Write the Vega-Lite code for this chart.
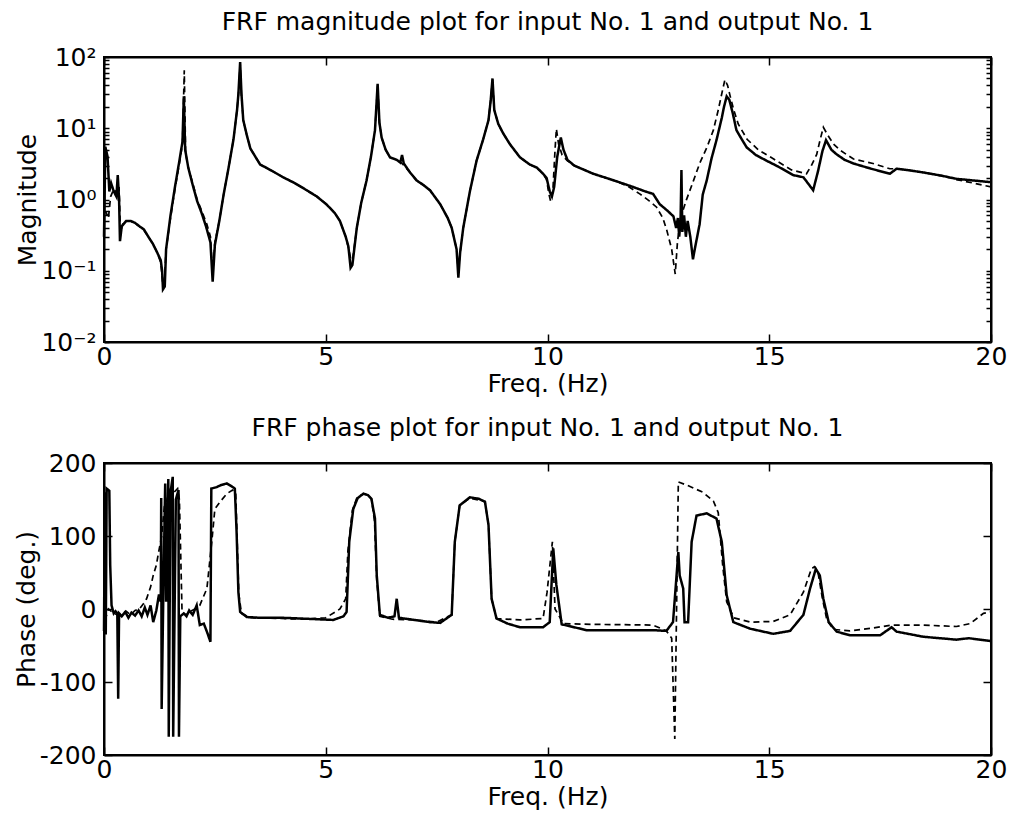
{
  "$schema": "https://vega.github.io/schema/vega-lite/v6.json",
  "padding": {"left": 13, "top": 9, "right": 5, "bottom": 5},
  "spacing": 18,
  "config": {
    "font": "DejaVu Sans",
    "view": {"stroke": "black", "strokeWidth": 2},
    "title": {"fontSize": 25, "fontWeight": "normal", "color": "black", "font": "DejaVu Sans"},
    "axis": {
      "domainColor": "black", "domainWidth": 2, "tickColor": "black", "tickWidth": 1.5,
      "labelColor": "black", "labelFontSize": 25, "labelFont": "DejaVu Sans",
      "titleColor": "black", "titleFontSize": 25, "titleFontWeight": "normal", "titleFont": "DejaVu Sans",
      "grid": false, "labelPadding": 10, "tickSize": -8
    }
  },
  "datasets": {
    "mag": [
      {"f":0.0,"v":0.3,"s":"a"},{"f":0.03,"v":5.5,"s":"a"},{"f":0.08,"v":4,"s":"a"},{"f":0.12,"v":1.3,"s":"a"},{"f":0.16,"v":1.7,"s":"a"},{"f":0.22,"v":1.3,"s":"a"},{"f":0.28,"v":1.1,"s":"a"},{"f":0.31,"v":2.2,"s":"a"},{"f":0.34,"v":1.0,"s":"a"},{"f":0.36,"v":0.26,"s":"a"},{"f":0.4,"v":0.42,"s":"a"},{"f":0.5,"v":0.5,"s":"a"},{"f":0.6,"v":0.5,"s":"a"},{"f":0.7,"v":0.47,"s":"a"},{"f":0.8,"v":0.42,"s":"a"},{"f":0.9,"v":0.38,"s":"a"},{"f":1.0,"v":0.3,"s":"a"},{"f":1.1,"v":0.24,"s":"a"},{"f":1.2,"v":0.18,"s":"a"},{"f":1.28,"v":0.14,"s":"a"},{"f":1.31,"v":0.1,"s":"a"},{"f":1.33,"v":0.055,"s":"a"},{"f":1.37,"v":0.06,"s":"a"},{"f":1.4,"v":0.2,"s":"a"},{"f":1.5,"v":0.6,"s":"a"},{"f":1.6,"v":1.5,"s":"a"},{"f":1.7,"v":3.5,"s":"a"},{"f":1.77,"v":6.5,"s":"a"},{"f":1.8,"v":28,"s":"a"},{"f":1.83,"v":5,"s":"a"},{"f":1.9,"v":2.8,"s":"a"},{"f":2.0,"v":1.6,"s":"a"},{"f":2.1,"v":0.95,"s":"a"},{"f":2.2,"v":0.65,"s":"a"},{"f":2.3,"v":0.42,"s":"a"},{"f":2.4,"v":0.25,"s":"a"},{"f":2.45,"v":0.07,"s":"a"},{"f":2.5,"v":0.23,"s":"a"},{"f":2.6,"v":0.5,"s":"a"},{"f":2.7,"v":1.2,"s":"a"},{"f":2.8,"v":2.6,"s":"a"},{"f":2.92,"v":7,"s":"a"},{"f":3.0,"v":18,"s":"a"},{"f":3.03,"v":30,"s":"a"},{"f":3.07,"v":85,"s":"a"},{"f":3.1,"v":30,"s":"a"},{"f":3.14,"v":13,"s":"a"},{"f":3.22,"v":8,"s":"a"},{"f":3.3,"v":5.2,"s":"a"},{"f":3.52,"v":3.1,"s":"a"},{"f":3.8,"v":2.5,"s":"a"},{"f":4.04,"v":2.05,"s":"a"},{"f":4.3,"v":1.7,"s":"a"},{"f":4.57,"v":1.35,"s":"a"},{"f":4.8,"v":1.1,"s":"a"},{"f":5.02,"v":0.85,"s":"a"},{"f":5.2,"v":0.65,"s":"a"},{"f":5.32,"v":0.5,"s":"a"},{"f":5.45,"v":0.3,"s":"a"},{"f":5.51,"v":0.22,"s":"a"},{"f":5.56,"v":0.11,"s":"a"},{"f":5.6,"v":0.12,"s":"a"},{"f":5.7,"v":0.4,"s":"a"},{"f":5.8,"v":0.9,"s":"a"},{"f":5.92,"v":1.85,"s":"a"},{"f":6.02,"v":4,"s":"a"},{"f":6.11,"v":9.4,"s":"a"},{"f":6.17,"v":42,"s":"a"},{"f":6.21,"v":12,"s":"a"},{"f":6.26,"v":7.4,"s":"a"},{"f":6.35,"v":5,"s":"a"},{"f":6.45,"v":3.9,"s":"a"},{"f":6.6,"v":3.6,"s":"a"},{"f":6.68,"v":3.3,"s":"a"},{"f":6.72,"v":4.2,"s":"a"},{"f":6.76,"v":3.2,"s":"a"},{"f":6.9,"v":2.4,"s":"a"},{"f":7.05,"v":1.85,"s":"a"},{"f":7.2,"v":1.6,"s":"a"},{"f":7.35,"v":1.35,"s":"a"},{"f":7.58,"v":0.86,"s":"a"},{"f":7.75,"v":0.55,"s":"a"},{"f":7.84,"v":0.4,"s":"a"},{"f":7.95,"v":0.2,"s":"a"},{"f":7.99,"v":0.08,"s":"a"},{"f":8.03,"v":0.18,"s":"a"},{"f":8.1,"v":0.4,"s":"a"},{"f":8.25,"v":1.3,"s":"a"},{"f":8.4,"v":3.5,"s":"a"},{"f":8.55,"v":7,"s":"a"},{"f":8.67,"v":13,"s":"a"},{"f":8.72,"v":25,"s":"a"},{"f":8.76,"v":50,"s":"a"},{"f":8.8,"v":18,"s":"a"},{"f":8.89,"v":11.5,"s":"a"},{"f":9.0,"v":8.5,"s":"a"},{"f":9.15,"v":6,"s":"a"},{"f":9.38,"v":3.9,"s":"a"},{"f":9.6,"v":3.1,"s":"a"},{"f":9.76,"v":2.8,"s":"a"},{"f":9.9,"v":2.3,"s":"a"},{"f":9.98,"v":2.0,"s":"a"},{"f":10.05,"v":1.3,"s":"a"},{"f":10.1,"v":1.1,"s":"a"},{"f":10.15,"v":1.5,"s":"a"},{"f":10.22,"v":4,"s":"a"},{"f":10.3,"v":7.4,"s":"a"},{"f":10.36,"v":5,"s":"a"},{"f":10.45,"v":3.6,"s":"a"},{"f":10.6,"v":3.0,"s":"a"},{"f":11.03,"v":2.3,"s":"a"},{"f":11.5,"v":1.85,"s":"a"},{"f":11.93,"v":1.5,"s":"a"},{"f":12.2,"v":1.3,"s":"a"},{"f":12.38,"v":1.2,"s":"a"},{"f":12.53,"v":0.86,"s":"a"},{"f":12.7,"v":0.7,"s":"a"},{"f":12.84,"v":0.58,"s":"a"},{"f":12.9,"v":0.4,"s":"a"},{"f":12.94,"v":0.55,"s":"a"},{"f":12.97,"v":0.3,"s":"a"},{"f":13.0,"v":0.5,"s":"a"},{"f":13.02,"v":2.6,"s":"a"},{"f":13.04,"v":0.35,"s":"a"},{"f":13.08,"v":0.6,"s":"a"},{"f":13.12,"v":0.3,"s":"a"},{"f":13.16,"v":0.5,"s":"a"},{"f":13.22,"v":0.3,"s":"a"},{"f":13.28,"v":0.145,"s":"a"},{"f":13.32,"v":0.2,"s":"a"},{"f":13.43,"v":0.45,"s":"a"},{"f":13.5,"v":1.17,"s":"a"},{"f":13.59,"v":1.85,"s":"a"},{"f":13.7,"v":3.8,"s":"a"},{"f":13.81,"v":6.8,"s":"a"},{"f":13.93,"v":14,"s":"a"},{"f":13.98,"v":20,"s":"a"},{"f":14.04,"v":28,"s":"a"},{"f":14.1,"v":25,"s":"a"},{"f":14.18,"v":16,"s":"a"},{"f":14.26,"v":9.4,"s":"a"},{"f":14.38,"v":7,"s":"a"},{"f":14.49,"v":5.4,"s":"a"},{"f":14.7,"v":4.2,"s":"a"},{"f":14.94,"v":3.5,"s":"a"},{"f":15.2,"v":2.9,"s":"a"},{"f":15.54,"v":2.2,"s":"a"},{"f":15.77,"v":2.05,"s":"a"},{"f":15.99,"v":1.35,"s":"a"},{"f":16.1,"v":2.5,"s":"a"},{"f":16.2,"v":4.8,"s":"a"},{"f":16.28,"v":6.8,"s":"a"},{"f":16.4,"v":5,"s":"a"},{"f":16.52,"v":4.3,"s":"a"},{"f":16.7,"v":3.6,"s":"a"},{"f":16.9,"v":3.2,"s":"a"},{"f":17.3,"v":2.7,"s":"a"},{"f":17.72,"v":2.3,"s":"a"},{"f":17.87,"v":2.7,"s":"a"},{"f":18.1,"v":2.6,"s":"a"},{"f":18.47,"v":2.4,"s":"a"},{"f":18.9,"v":2.15,"s":"a"},{"f":19.22,"v":1.95,"s":"a"},{"f":19.6,"v":1.85,"s":"a"},{"f":20.0,"v":1.75,"s":"a"},
      {"f":0.0,"v":0.7,"s":"b"},{"f":0.05,"v":0.65,"s":"b"},{"f":0.1,"v":0.55,"s":"b"},{"f":0.15,"v":1.1,"s":"b"},{"f":0.22,"v":1.4,"s":"b"},{"f":0.3,"v":1.2,"s":"b"},{"f":0.34,"v":1.5,"s":"b"},{"f":0.37,"v":0.35,"s":"b"},{"f":0.42,"v":0.45,"s":"b"},{"f":0.5,"v":0.5,"s":"b"},{"f":0.6,"v":0.5,"s":"b"},{"f":0.7,"v":0.46,"s":"b"},{"f":0.8,"v":0.42,"s":"b"},{"f":0.9,"v":0.37,"s":"b"},{"f":1.0,"v":0.3,"s":"b"},{"f":1.1,"v":0.24,"s":"b"},{"f":1.2,"v":0.18,"s":"b"},{"f":1.28,"v":0.13,"s":"b"},{"f":1.32,"v":0.07,"s":"b"},{"f":1.36,"v":0.065,"s":"b"},{"f":1.4,"v":0.2,"s":"b"},{"f":1.5,"v":0.55,"s":"b"},{"f":1.6,"v":1.4,"s":"b"},{"f":1.7,"v":3.2,"s":"b"},{"f":1.77,"v":6,"s":"b"},{"f":1.81,"v":65,"s":"b"},{"f":1.84,"v":4.5,"s":"b"},{"f":1.9,"v":2.8,"s":"b"},{"f":2.0,"v":1.7,"s":"b"},{"f":2.1,"v":1.0,"s":"b"},{"f":2.2,"v":0.7,"s":"b"},{"f":2.32,"v":0.45,"s":"b"},{"f":2.4,"v":0.3,"s":"b"},{"f":2.45,"v":0.09,"s":"b"},{"f":2.5,"v":0.25,"s":"b"},{"f":2.6,"v":0.5,"s":"b"},{"f":2.7,"v":1.2,"s":"b"},{"f":2.8,"v":2.6,"s":"b"},{"f":2.92,"v":7,"s":"b"},{"f":3.0,"v":18,"s":"b"},{"f":3.04,"v":35,"s":"b"},{"f":3.07,"v":80,"s":"b"},{"f":3.1,"v":28,"s":"b"},{"f":3.14,"v":13,"s":"b"},{"f":3.22,"v":8,"s":"b"},{"f":3.3,"v":5.2,"s":"b"},{"f":3.52,"v":3.1,"s":"b"},{"f":3.8,"v":2.5,"s":"b"},{"f":4.04,"v":2.05,"s":"b"},{"f":4.3,"v":1.7,"s":"b"},{"f":4.57,"v":1.35,"s":"b"},{"f":4.8,"v":1.1,"s":"b"},{"f":5.02,"v":0.85,"s":"b"},{"f":5.2,"v":0.65,"s":"b"},{"f":5.32,"v":0.5,"s":"b"},{"f":5.45,"v":0.3,"s":"b"},{"f":5.52,"v":0.2,"s":"b"},{"f":5.57,"v":0.14,"s":"b"},{"f":5.61,"v":0.15,"s":"b"},{"f":5.7,"v":0.4,"s":"b"},{"f":5.8,"v":0.9,"s":"b"},{"f":5.92,"v":1.85,"s":"b"},{"f":6.02,"v":4,"s":"b"},{"f":6.11,"v":9.4,"s":"b"},{"f":6.17,"v":40,"s":"b"},{"f":6.21,"v":12,"s":"b"},{"f":6.26,"v":7.4,"s":"b"},{"f":6.35,"v":5,"s":"b"},{"f":6.45,"v":3.9,"s":"b"},{"f":6.6,"v":3.6,"s":"b"},{"f":6.7,"v":3.3,"s":"b"},{"f":6.9,"v":2.4,"s":"b"},{"f":7.05,"v":1.85,"s":"b"},{"f":7.2,"v":1.6,"s":"b"},{"f":7.35,"v":1.35,"s":"b"},{"f":7.58,"v":0.86,"s":"b"},{"f":7.75,"v":0.55,"s":"b"},{"f":7.84,"v":0.4,"s":"b"},{"f":7.95,"v":0.2,"s":"b"},{"f":7.99,"v":0.1,"s":"b"},{"f":8.03,"v":0.18,"s":"b"},{"f":8.1,"v":0.4,"s":"b"},{"f":8.25,"v":1.3,"s":"b"},{"f":8.4,"v":3.5,"s":"b"},{"f":8.55,"v":7,"s":"b"},{"f":8.67,"v":13,"s":"b"},{"f":8.72,"v":25,"s":"b"},{"f":8.76,"v":48,"s":"b"},{"f":8.8,"v":18,"s":"b"},{"f":8.89,"v":11.5,"s":"b"},{"f":9.0,"v":8.5,"s":"b"},{"f":9.15,"v":6,"s":"b"},{"f":9.38,"v":3.9,"s":"b"},{"f":9.6,"v":3.1,"s":"b"},{"f":9.76,"v":2.8,"s":"b"},{"f":9.9,"v":2.3,"s":"b"},{"f":9.98,"v":1.9,"s":"b"},{"f":10.03,"v":1.2,"s":"b"},{"f":10.07,"v":0.95,"s":"b"},{"f":10.12,"v":1.3,"s":"b"},{"f":10.17,"v":5,"s":"b"},{"f":10.2,"v":9.8,"s":"b"},{"f":10.25,"v":6,"s":"b"},{"f":10.33,"v":4.2,"s":"b"},{"f":10.45,"v":3.5,"s":"b"},{"f":10.6,"v":3.0,"s":"b"},{"f":11.03,"v":2.3,"s":"b"},{"f":11.5,"v":1.85,"s":"b"},{"f":11.8,"v":1.55,"s":"b"},{"f":12.08,"v":1.2,"s":"b"},{"f":12.3,"v":0.95,"s":"b"},{"f":12.46,"v":0.78,"s":"b"},{"f":12.6,"v":0.55,"s":"b"},{"f":12.69,"v":0.37,"s":"b"},{"f":12.8,"v":0.2,"s":"b"},{"f":12.88,"v":0.09,"s":"b"},{"f":12.93,"v":0.25,"s":"b"},{"f":13.0,"v":0.55,"s":"b"},{"f":13.13,"v":0.98,"s":"b"},{"f":13.3,"v":1.9,"s":"b"},{"f":13.43,"v":3.2,"s":"b"},{"f":13.6,"v":5.5,"s":"b"},{"f":13.74,"v":9.4,"s":"b"},{"f":13.85,"v":18,"s":"b"},{"f":13.95,"v":35,"s":"b"},{"f":14.0,"v":48,"s":"b"},{"f":14.06,"v":40,"s":"b"},{"f":14.12,"v":28,"s":"b"},{"f":14.2,"v":18,"s":"b"},{"f":14.3,"v":11.5,"s":"b"},{"f":14.5,"v":7,"s":"b"},{"f":14.75,"v":5,"s":"b"},{"f":15.1,"v":3.7,"s":"b"},{"f":15.5,"v":2.6,"s":"b"},{"f":15.84,"v":2.3,"s":"b"},{"f":15.95,"v":3,"s":"b"},{"f":16.07,"v":4.3,"s":"b"},{"f":16.15,"v":7,"s":"b"},{"f":16.22,"v":10.3,"s":"b"},{"f":16.32,"v":8,"s":"b"},{"f":16.45,"v":6,"s":"b"},{"f":16.6,"v":4.9,"s":"b"},{"f":16.9,"v":3.7,"s":"b"},{"f":17.34,"v":3.2,"s":"b"},{"f":17.72,"v":2.7,"s":"b"},{"f":17.87,"v":2.7,"s":"b"},{"f":18.1,"v":2.6,"s":"b"},{"f":18.47,"v":2.4,"s":"b"},{"f":18.9,"v":2.15,"s":"b"},{"f":19.22,"v":1.9,"s":"b"},{"f":19.6,"v":1.7,"s":"b"},{"f":20.0,"v":1.5,"s":"b"}
    ],
    "phase": [
      {"f":0.0,"v":-30,"s":"a"},{"f":0.02,"v":160,"s":"a"},{"f":0.04,"v":-35,"s":"a"},{"f":0.06,"v":165,"s":"a"},{"f":0.12,"v":162,"s":"a"},{"f":0.14,"v":60,"s":"a"},{"f":0.17,"v":5,"s":"a"},{"f":0.22,"v":-6,"s":"a"},{"f":0.26,"v":-3,"s":"a"},{"f":0.3,"v":-6,"s":"a"},{"f":0.32,"v":-123,"s":"a"},{"f":0.34,"v":-6,"s":"a"},{"f":0.4,"v":-10,"s":"a"},{"f":0.48,"v":-4,"s":"a"},{"f":0.55,"v":-12,"s":"a"},{"f":0.62,"v":-5,"s":"a"},{"f":0.7,"v":-9,"s":"a"},{"f":0.78,"v":-2,"s":"a"},{"f":0.85,"v":-10,"s":"a"},{"f":0.92,"v":2,"s":"a"},{"f":0.98,"v":-8,"s":"a"},{"f":1.05,"v":5,"s":"a"},{"f":1.11,"v":-18,"s":"a"},{"f":1.18,"v":-2,"s":"a"},{"f":1.24,"v":20,"s":"a"},{"f":1.28,"v":10,"s":"a"},{"f":1.29,"v":152,"s":"a"},{"f":1.3,"v":-137,"s":"a"},{"f":1.34,"v":30,"s":"a"},{"f":1.38,"v":172,"s":"a"},{"f":1.4,"v":10,"s":"a"},{"f":1.45,"v":178,"s":"a"},{"f":1.46,"v":-175,"s":"a"},{"f":1.5,"v":160,"s":"a"},{"f":1.55,"v":181,"s":"a"},{"f":1.56,"v":-175,"s":"a"},{"f":1.62,"v":150,"s":"a"},{"f":1.68,"v":163,"s":"a"},{"f":1.69,"v":-175,"s":"a"},{"f":1.72,"v":-10,"s":"a"},{"f":1.8,"v":-6,"s":"a"},{"f":1.86,"v":-10,"s":"a"},{"f":1.92,"v":-2,"s":"a"},{"f":2.0,"v":-8,"s":"a"},{"f":2.09,"v":5,"s":"a"},{"f":2.16,"v":-22,"s":"a"},{"f":2.25,"v":-20,"s":"a"},{"f":2.32,"v":-31,"s":"a"},{"f":2.4,"v":-45,"s":"a"},{"f":2.42,"v":165,"s":"a"},{"f":2.54,"v":167,"s":"a"},{"f":2.65,"v":170,"s":"a"},{"f":2.77,"v":172,"s":"a"},{"f":2.88,"v":168,"s":"a"},{"f":2.95,"v":165,"s":"a"},{"f":2.99,"v":105,"s":"a"},{"f":3.03,"v":23,"s":"a"},{"f":3.07,"v":-4,"s":"a"},{"f":3.22,"v":-11,"s":"a"},{"f":3.5,"v":-12,"s":"a"},{"f":4.0,"v":-12,"s":"a"},{"f":4.42,"v":-13,"s":"a"},{"f":4.8,"v":-14,"s":"a"},{"f":5.17,"v":-15,"s":"a"},{"f":5.4,"v":-10,"s":"a"},{"f":5.47,"v":-4,"s":"a"},{"f":5.53,"v":92,"s":"a"},{"f":5.62,"v":137,"s":"a"},{"f":5.72,"v":152,"s":"a"},{"f":5.85,"v":158,"s":"a"},{"f":5.95,"v":156,"s":"a"},{"f":6.03,"v":151,"s":"a"},{"f":6.11,"v":124,"s":"a"},{"f":6.15,"v":46,"s":"a"},{"f":6.22,"v":-8,"s":"a"},{"f":6.4,"v":-12,"s":"a"},{"f":6.55,"v":-10,"s":"a"},{"f":6.6,"v":14,"s":"a"},{"f":6.65,"v":-12,"s":"a"},{"f":7.0,"v":-15,"s":"a"},{"f":7.35,"v":-18,"s":"a"},{"f":7.58,"v":-19,"s":"a"},{"f":7.84,"v":-8,"s":"a"},{"f":7.91,"v":92,"s":"a"},{"f":8.02,"v":142,"s":"a"},{"f":8.25,"v":153,"s":"a"},{"f":8.45,"v":151,"s":"a"},{"f":8.59,"v":147,"s":"a"},{"f":8.67,"v":115,"s":"a"},{"f":8.74,"v":14,"s":"a"},{"f":8.85,"v":-13,"s":"a"},{"f":9.1,"v":-20,"s":"a"},{"f":9.38,"v":-25,"s":"a"},{"f":9.9,"v":-25,"s":"a"},{"f":10.05,"v":-18,"s":"a"},{"f":10.13,"v":83,"s":"a"},{"f":10.2,"v":33,"s":"a"},{"f":10.32,"v":-21,"s":"a"},{"f":10.88,"v":-29,"s":"a"},{"f":11.5,"v":-29,"s":"a"},{"f":12.38,"v":-29,"s":"a"},{"f":12.68,"v":-30,"s":"a"},{"f":12.83,"v":-18,"s":"a"},{"f":12.95,"v":78,"s":"a"},{"f":12.98,"v":46,"s":"a"},{"f":13.06,"v":28,"s":"a"},{"f":13.09,"v":-18,"s":"a"},{"f":13.17,"v":-18,"s":"a"},{"f":13.25,"v":92,"s":"a"},{"f":13.36,"v":128,"s":"a"},{"f":13.59,"v":131,"s":"a"},{"f":13.81,"v":124,"s":"a"},{"f":13.93,"v":92,"s":"a"},{"f":14.04,"v":19,"s":"a"},{"f":14.19,"v":-18,"s":"a"},{"f":14.57,"v":-27,"s":"a"},{"f":15.09,"v":-34,"s":"a"},{"f":15.47,"v":-30,"s":"a"},{"f":15.77,"v":-8,"s":"a"},{"f":15.92,"v":28,"s":"a"},{"f":16.05,"v":55,"s":"a"},{"f":16.14,"v":46,"s":"a"},{"f":16.22,"v":14,"s":"a"},{"f":16.34,"v":-18,"s":"a"},{"f":16.52,"v":-31,"s":"a"},{"f":16.82,"v":-36,"s":"a"},{"f":17.5,"v":-36,"s":"a"},{"f":17.76,"v":-25,"s":"a"},{"f":17.87,"v":-31,"s":"a"},{"f":18.47,"v":-38,"s":"a"},{"f":19.22,"v":-42,"s":"a"},{"f":19.5,"v":-40,"s":"a"},{"f":20.0,"v":-44,"s":"a"},
      {"f":0.0,"v":-5,"s":"b"},{"f":0.05,"v":-10,"s":"b"},{"f":0.1,"v":0,"s":"b"},{"f":0.2,"v":-5,"s":"b"},{"f":0.3,"v":-8,"s":"b"},{"f":0.4,"v":-6,"s":"b"},{"f":0.5,"v":-3,"s":"b"},{"f":0.6,"v":-8,"s":"b"},{"f":0.7,"v":-2,"s":"b"},{"f":0.8,"v":0,"s":"b"},{"f":0.9,"v":8,"s":"b"},{"f":0.96,"v":14,"s":"b"},{"f":1.05,"v":30,"s":"b"},{"f":1.11,"v":46,"s":"b"},{"f":1.18,"v":60,"s":"b"},{"f":1.22,"v":74,"s":"b"},{"f":1.3,"v":100,"s":"b"},{"f":1.36,"v":140,"s":"b"},{"f":1.42,"v":150,"s":"b"},{"f":1.5,"v":165,"s":"b"},{"f":1.58,"v":160,"s":"b"},{"f":1.66,"v":165,"s":"b"},{"f":1.7,"v":150,"s":"b"},{"f":1.72,"v":100,"s":"b"},{"f":1.76,"v":-5,"s":"b"},{"f":1.85,"v":-8,"s":"b"},{"f":1.95,"v":-3,"s":"b"},{"f":2.05,"v":0,"s":"b"},{"f":2.16,"v":5,"s":"b"},{"f":2.32,"v":28,"s":"b"},{"f":2.43,"v":92,"s":"b"},{"f":2.5,"v":137,"s":"b"},{"f":2.62,"v":147,"s":"b"},{"f":2.77,"v":158,"s":"b"},{"f":2.9,"v":163,"s":"b"},{"f":2.97,"v":160,"s":"b"},{"f":3.0,"v":100,"s":"b"},{"f":3.04,"v":20,"s":"b"},{"f":3.1,"v":-6,"s":"b"},{"f":3.3,"v":-12,"s":"b"},{"f":4.0,"v":-13,"s":"b"},{"f":4.5,"v":-14,"s":"b"},{"f":5.0,"v":-12,"s":"b"},{"f":5.32,"v":0,"s":"b"},{"f":5.45,"v":14,"s":"b"},{"f":5.5,"v":80,"s":"b"},{"f":5.6,"v":135,"s":"b"},{"f":5.7,"v":152,"s":"b"},{"f":5.85,"v":158,"s":"b"},{"f":5.95,"v":156,"s":"b"},{"f":6.03,"v":151,"s":"b"},{"f":6.1,"v":120,"s":"b"},{"f":6.15,"v":40,"s":"b"},{"f":6.22,"v":-10,"s":"b"},{"f":6.5,"v":-14,"s":"b"},{"f":7.0,"v":-15,"s":"b"},{"f":7.5,"v":-18,"s":"b"},{"f":7.84,"v":-8,"s":"b"},{"f":7.91,"v":92,"s":"b"},{"f":8.02,"v":142,"s":"b"},{"f":8.25,"v":152,"s":"b"},{"f":8.59,"v":147,"s":"b"},{"f":8.67,"v":115,"s":"b"},{"f":8.74,"v":14,"s":"b"},{"f":8.85,"v":-13,"s":"b"},{"f":9.38,"v":-15,"s":"b"},{"f":9.9,"v":-13,"s":"b"},{"f":9.99,"v":23,"s":"b"},{"f":10.11,"v":92,"s":"b"},{"f":10.17,"v":0,"s":"b"},{"f":10.36,"v":-20,"s":"b"},{"f":11.0,"v":-21,"s":"b"},{"f":12.38,"v":-22,"s":"b"},{"f":12.68,"v":-30,"s":"b"},{"f":12.8,"v":-40,"s":"b"},{"f":12.87,"v":-178,"s":"b"},{"f":12.95,"v":174,"s":"b"},{"f":13.13,"v":170,"s":"b"},{"f":13.5,"v":160,"s":"b"},{"f":13.74,"v":148,"s":"b"},{"f":13.85,"v":132,"s":"b"},{"f":13.95,"v":60,"s":"b"},{"f":14.04,"v":10,"s":"b"},{"f":14.2,"v":-12,"s":"b"},{"f":14.57,"v":-18,"s":"b"},{"f":15.09,"v":-17,"s":"b"},{"f":15.47,"v":-8,"s":"b"},{"f":15.77,"v":23,"s":"b"},{"f":15.95,"v":55,"s":"b"},{"f":16.02,"v":58,"s":"b"},{"f":16.1,"v":50,"s":"b"},{"f":16.2,"v":14,"s":"b"},{"f":16.3,"v":-15,"s":"b"},{"f":16.45,"v":-28,"s":"b"},{"f":16.82,"v":-30,"s":"b"},{"f":17.35,"v":-26,"s":"b"},{"f":17.76,"v":-22,"s":"b"},{"f":18.47,"v":-22,"s":"b"},{"f":19.22,"v":-24,"s":"b"},{"f":19.53,"v":-20,"s":"b"},{"f":19.83,"v":-6,"s":"b"},{"f":20.0,"v":-4,"s":"b"}
    ]
  },
  "vconcat": [
    {
      "width": 887, "height": 285,
      "title": {"text": "FRF magnitude plot for input No. 1 and output No. 1", "offset": 10},
      "data": {"name": "mag"},
      "layer": [
        {
          "mark": {"type": "line", "color": "black"},
          "encoding": {
            "x": {"field": "f", "type": "quantitative", "scale": {"domain": [0, 20], "nice": false},
              "axis": {"values": [0, 5, 10, 15, 20], "title": "Freq. (Hz)", "titlePadding": 2, "labelFlush": false}},
            "y": {"field": "v", "type": "quantitative",
              "scale": {"type": "log", "domain": [0.01, 100], "nice": false},
              "axis": {"values": [0.01,0.02,0.03,0.04,0.05,0.06,0.07,0.08,0.09,0.1,0.2,0.3,0.4,0.5,0.6,0.7,0.8,0.9,1,2,3,4,5,6,7,8,9,10,20,30,40,50,60,70,80,90,100],
                "labelExpr": "datum.value == 100 ? '10²' : datum.value == 10 ? '10¹' : datum.value == 1 ? '10⁰' : datum.value == 0.1 ? '10⁻¹' : datum.value == 0.01 ? '10⁻²' : ''",
                "tickSize": -5, "labelPadding": 13, "title": "Magnitude", "titlePadding": 0, "labelFlush": false}},
            "strokeDash": {"field": "s", "type": "nominal", "scale": {"domain": ["a", "b"], "range": [[1, 0], [6, 4]]}, "legend": null},
            "strokeWidth": {"field": "s", "type": "nominal", "scale": {"domain": ["a", "b"], "range": [2.5, 1.7]}, "legend": null}
          }
        },
        {
          "mark": {"type": "line", "opacity": 0},
          "encoding": {
            "x": {"field": "f", "type": "quantitative", "axis": {"orient": "top", "values": [0, 5, 10, 15, 20], "labels": false, "title": null}},
            "y": {"field": "v", "type": "quantitative",
              "axis": {"orient": "right", "values": [0.01,0.02,0.03,0.04,0.05,0.06,0.07,0.08,0.09,0.1,0.2,0.3,0.4,0.5,0.6,0.7,0.8,0.9,1,2,3,4,5,6,7,8,9,10,20,30,40,50,60,70,80,90,100], "labels": false, "title": null, "tickSize": -5}}
          }
        }
      ],
      "resolve": {"axis": {"x": "independent", "y": "independent"}}
    },
    {
      "width": 887, "height": 292,
      "title": {"text": "FRF phase plot for input No. 1 and output No. 1", "offset": 10},
      "data": {"name": "phase"},
      "layer": [
        {
          "mark": {"type": "line", "color": "black"},
          "encoding": {
            "x": {"field": "f", "type": "quantitative", "scale": {"domain": [0, 20], "nice": false},
              "axis": {"values": [0, 5, 10, 15, 20], "title": "Freq. (Hz)", "titlePadding": 2, "labelFlush": false}},
            "y": {"field": "v", "type": "quantitative", "scale": {"domain": [-200, 200], "nice": false},
              "axis": {"values": [-200, -100, 0, 100, 200], "title": "Phase (deg.)", "titlePadding": 0, "labelPadding": 16, "labelFlush": false,
                "labelExpr": "datum.value < 0 ? '-' + abs(datum.value) : '' + datum.value"}},
            "strokeDash": {"field": "s", "type": "nominal", "scale": {"domain": ["a", "b"], "range": [[1, 0], [6, 4]]}, "legend": null},
            "strokeWidth": {"field": "s", "type": "nominal", "scale": {"domain": ["a", "b"], "range": [2.5, 1.7]}, "legend": null}
          }
        },
        {
          "mark": {"type": "line", "opacity": 0},
          "encoding": {
            "x": {"field": "f", "type": "quantitative", "axis": {"orient": "top", "values": [0, 5, 10, 15, 20], "labels": false, "title": null}},
            "y": {"field": "v", "type": "quantitative", "axis": {"orient": "right", "values": [-200, -100, 0, 100, 200], "labels": false, "title": null}}
          }
        }
      ],
      "resolve": {"axis": {"x": "independent", "y": "independent"}}
    }
  ]
}
